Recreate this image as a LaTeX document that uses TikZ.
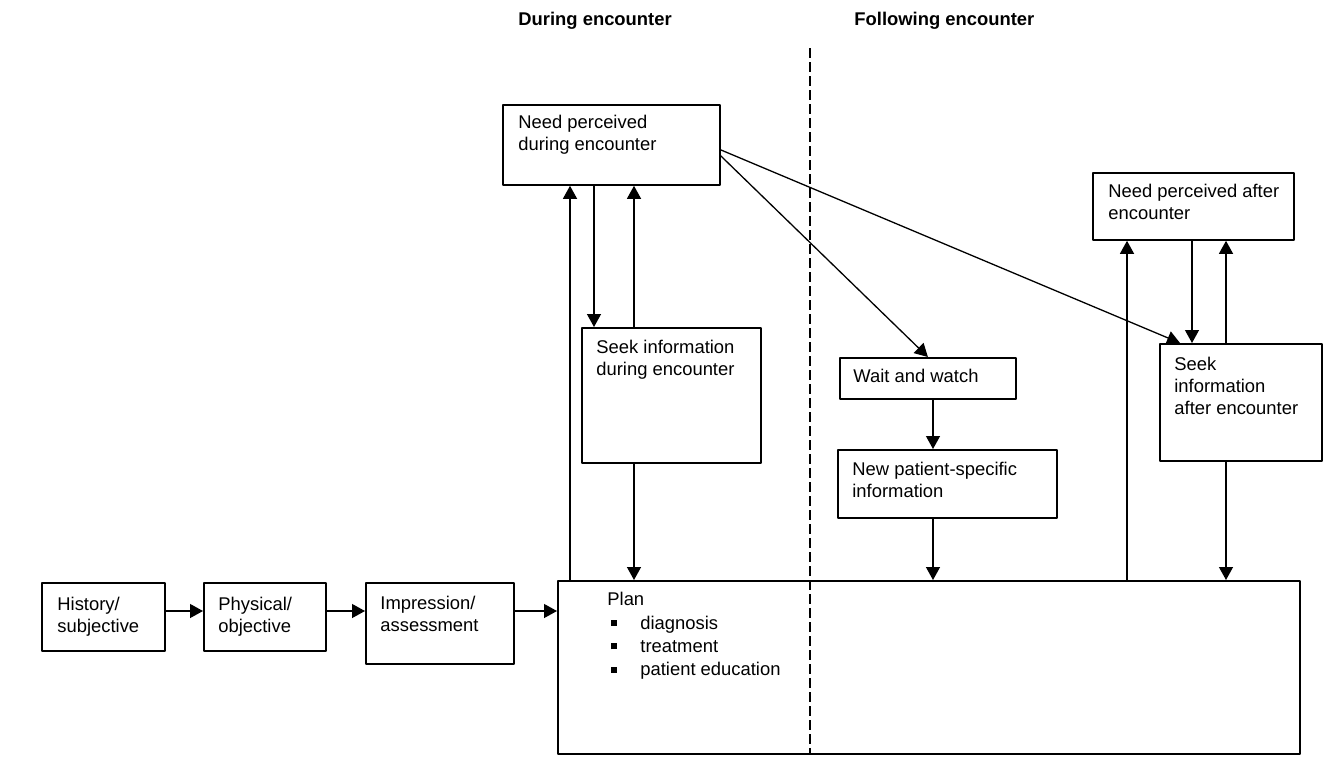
\documentclass[tikz,border=0pt]{standalone}
\usepackage{fontspec}
\setmainfont{Liberation Sans}
\usetikzlibrary{arrows.meta}
\newcommand{\planbullet}{\rule[1.6pt]{3pt}{3pt}}
\begin{document}
\begin{tikzpicture}[x=0.5pt,y=-0.5pt,line join=round,>={Triangle[length=6.5pt,width=7pt]},
        box/.style={draw,line width=0.9pt,anchor=north west,inner sep=0pt},
        txt/.style={anchor=north west,inner sep=0pt,align=left,font=\fontsize{9.2}{11}\selectfont},
        arr/.style={->,line width=0.65pt}]
        \useasboundingbox (0,0) rectangle (1340,761);
        \node[txt,anchor=base west,font=\bfseries\fontsize{9.2}{11}\selectfont] (during) at (518,25) {During encounter};
        \node[txt,anchor=base west,font=\bfseries\fontsize{9.2}{11}\selectfont] (following) at (854,25) {Following encounter};
        \node[box,minimum width=61.5pt,minimum height=34pt] (hist) at (41,582) {};
        \node[txt] (histtxt) at ([shift={(8pt,-7.5pt)}]hist.north west) {History/\\subjective};
        \node[box,minimum width=61pt,minimum height=34pt] (phys) at (203,582) {};
        \node[txt] (phystxt) at ([shift={(7.5pt,-7.5pt)}]phys.north west) {Physical/\\objective};
        \node[box,minimum width=74pt,minimum height=40.5pt] (imp) at (365,582) {};
        \node[txt] (imptxt) at ([shift={(7.5pt,-7pt)}]imp.north west) {Impression/\\assessment};
        \node[box,minimum width=371pt,minimum height=86.5pt] (plan) at (557,580) {};
        \node[txt,font=\fontsize{9.2}{11.7}\selectfont] (plantxt) at ([shift={(25pt,-6pt)}]plan.north west)
          {Plan\\\hspace*{2pt}\planbullet\hspace*{11.5pt}diagnosis\\\hspace*{2pt}\planbullet\hspace*{11.5pt}treatment\\\hspace*{2pt}\planbullet\hspace*{11.5pt}patient education};
        \node[box,minimum width=108.5pt,minimum height=40pt] (need1) at (502,104) {};
        \node[txt] (need1txt) at ([shift={(8pt,-5.5pt)}]need1.north west) {Need perceived\\during encounter};
        \node[box,minimum width=89.5pt,minimum height=67.5pt] (seek1) at (581,327) {};
        \node[txt] (seek1txt) at ([shift={(7.5pt,-6.5pt)}]seek1.north west) {Seek information\\during encounter};
        \node[box,minimum width=88pt,minimum height=20.5pt] (wait) at (839,357) {};
        \node[txt] (waittxt) at ([shift={(7pt,-6pt)}]wait.north west) {Wait and watch};
        \node[box,minimum width=109.5pt,minimum height=34pt] (newinfo) at (837,449) {};
        \node[txt] (newinfotxt) at ([shift={(7.5pt,-6.5pt)}]newinfo.north west) {New patient-specific\\information};
        \node[box,minimum width=100.5pt,minimum height=33.5pt] (need2) at (1092,172) {};
        \node[txt] (need2txt) at ([shift={(8pt,-6pt)}]need2.north west) {Need perceived after\\encounter};
        \node[box,minimum width=81pt,minimum height=58.5pt] (seek2) at (1159,343) {};
        \node[txt] (seek2txt) at ([shift={(7.5pt,-7pt)}]seek2.north west) {Seek\\information\\after encounter};
        \coordinate (divtop) at (810,48);
        \draw[dash pattern=on 5pt off 2pt,line width=0.6pt] (divtop) -- (divtop |- plan.south);
        \coordinate (row) at (0,611);
        \coordinate (ca) at (570,0);
        \coordinate (cb) at (594,0);
        \coordinate (cc) at (634,0);
        \coordinate (cd) at (933,0);
        \coordinate (ce) at (1127,0);
        \coordinate (cf) at (1192,0);
        \coordinate (cg) at (1226,0);
        \draw[arr] (hist.east |- row) -- (phys.west |- row);
        \draw[arr] (phys.east |- row) -- (imp.west |- row);
        \draw[arr] (imp.east |- row) -- (plan.west |- row);
        \draw[arr] (plan.north -| ca) -- (need1.south -| ca);
        \draw[arr] (need1.south -| cb) -- (seek1.north -| cb);
        \draw[arr] (seek1.north -| cc) -- (need1.south -| cc);
        \draw[arr] (seek1.south -| cc) -- (plan.north -| cc);
        \draw[arr] ([yshift=-5.5pt]need1.east) -- (wait.north);
        \draw[arr] ([yshift=-2.5pt]need1.east) -- ([xshift=10.5pt]seek2.north west);
        \draw[arr] (wait.south -| cd) -- (newinfo.north -| cd);
        \draw[arr] (newinfo.south -| cd) -- (plan.north -| cd);
        \draw[arr] (plan.north -| ce) -- (need2.south -| ce);
        \draw[arr] (need2.south -| cf) -- (seek2.north -| cf);
        \draw[arr] (seek2.north -| cg) -- (need2.south -| cg);
        \draw[arr] (seek2.south -| cg) -- (plan.north -| cg);
      \end{tikzpicture}
\end{document}
